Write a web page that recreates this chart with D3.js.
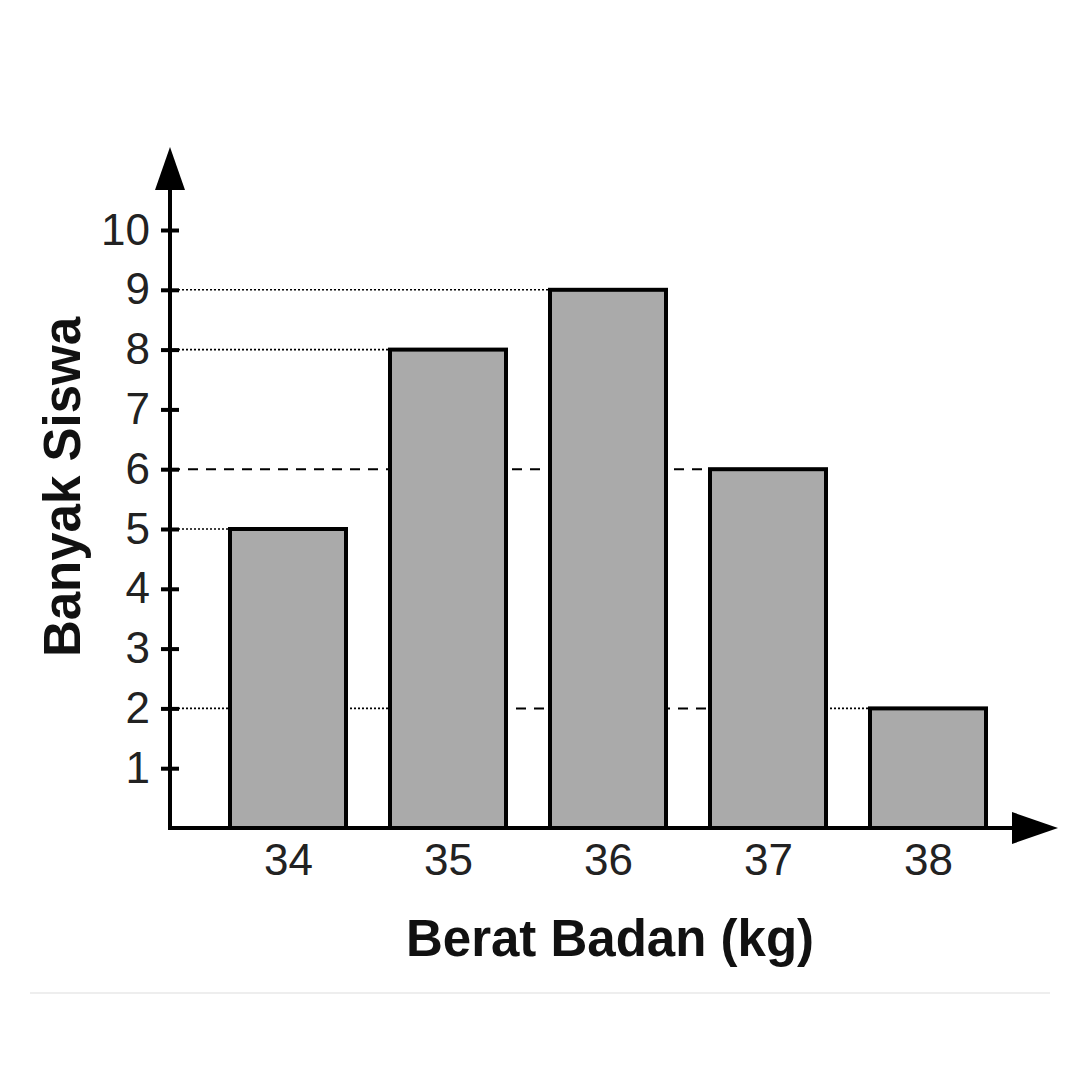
<!DOCTYPE html>
<html>
<head>
<meta charset="utf-8">
<script src="https://cdn.jsdelivr.net/npm/d3@7"></script>
<style>
  body { margin: 0; background: #fff; }
  svg { display: block; }
</style>
</head>
<body>
<svg id="chart" width="1080" height="1080"></svg>
<script>
// data
var categories = ["34", "35", "36", "37", "38"];
var counts = [5, 8, 9, 6, 2];
var yTicks = [1, 2, 3, 4, 5, 6, 7, 8, 9, 10];

var svg = d3.select("#chart");
var x0 = 170, y0 = 828;
var font = "Liberation Sans, Arial, sans-serif";

var x = d3.scalePoint().domain(categories).range([288, 928]);
var barW = 116;
var y = d3.scaleLinear().domain([0, 10]).range([y0, 230]);

// guide lines behind the bars (dotted or dashed, as in the picture)
function guide(v, xa, xb, dash) {
  svg.append("line")
    .attr("x1", xa).attr("x2", xb)
    .attr("y1", y(v)).attr("y2", y(v))
    .attr("stroke", "#000")
    .attr("stroke-width", dash == "dot" ? 1.6 : 2)
    .attr("stroke-dasharray", dash == "dot" ? "2,2" : "10,8");
}
var left = function(c) { return x(c) - barW / 2; };
var right = function(c) { return x(c) + barW / 2; };
guide(counts[2], x0, left("36"), "dot");
guide(counts[1], x0, left("35"), "dot");
guide(counts[3], x0, left("37"), "dash");
guide(counts[0], x0, left("34"), "dot");
guide(counts[4], x0, left("35"), "dot");
guide(counts[4], left("35"), right("37"), "dash");
guide(counts[4], right("37"), left("38"), "dot");

// bars
svg.append("g").selectAll("rect")
  .data(categories)
  .enter().append("rect")
  .attr("x", function(d) { return left(d); })
  .attr("y", function(d, i) { return y(counts[i]); })
  .attr("width", barW)
  .attr("height", function(d, i) { return y0 - y(counts[i]); })
  .attr("fill", "#aaaaaa")
  .attr("stroke", "#000")
  .attr("stroke-width", 4);

// y axis
var yAxis = svg.append("g")
  .attr("transform", "translate(" + x0 + ",0)")
  .call(d3.axisLeft(y).tickValues(yTicks).tickSize(0).tickPadding(20));
yAxis.select(".domain").remove();
yAxis.selectAll("text")
  .attr("font-family", font)
  .attr("font-size", 44)
  .attr("fill", "#222");
yAxis.selectAll(".tick").append("line")
  .attr("x1", -9).attr("x2", 9)
  .attr("stroke", "#000").attr("stroke-width", 4);

// x axis labels
var xAxis = svg.append("g")
  .attr("transform", "translate(0," + y0 + ")")
  .call(d3.axisBottom(x).tickSize(0).tickPadding(16));
xAxis.select(".domain").remove();
xAxis.selectAll("text")
  .attr("font-family", font)
  .attr("font-size", 44)
  .attr("fill", "#222");

// axis lines with arrows
svg.append("line")
  .attr("x1", x0).attr("x2", x0)
  .attr("y1", y0 + 2).attr("y2", 185)
  .attr("stroke", "#000").attr("stroke-width", 4);
svg.append("path")
  .attr("d", "M" + x0 + ",147 L" + (x0 - 15) + ",190 L" + (x0 + 15) + ",190 Z")
  .attr("fill", "#000");
svg.append("line")
  .attr("x1", x0 - 2).attr("x2", 1015)
  .attr("y1", y0).attr("y2", y0)
  .attr("stroke", "#000").attr("stroke-width", 4);
svg.append("path")
  .attr("d", "M1058," + y0 + " L1012," + (y0 - 16) + " L1012," + (y0 + 16) + " Z")
  .attr("fill", "#000");

// titles
svg.append("text")
  .attr("x", 610).attr("y", 956)
  .attr("text-anchor", "middle")
  .attr("font-family", font)
  .attr("font-weight", "bold")
  .attr("font-size", 51)
  .attr("fill", "#111")
  .text("Berat Badan (kg)");
svg.append("text")
  .attr("transform", "translate(80,487) rotate(-90)")
  .attr("text-anchor", "middle")
  .attr("font-family", font)
  .attr("font-weight", "bold")
  .attr("font-size", 51)
  .attr("fill", "#111")
  .text("Banyak Siswa");

// faint border line at the bottom
svg.append("line")
  .attr("x1", 30).attr("x2", 1050)
  .attr("y1", 993).attr("y2", 993)
  .attr("stroke", "#eeeeee").attr("stroke-width", 2);
</script>
</body>
</html>
